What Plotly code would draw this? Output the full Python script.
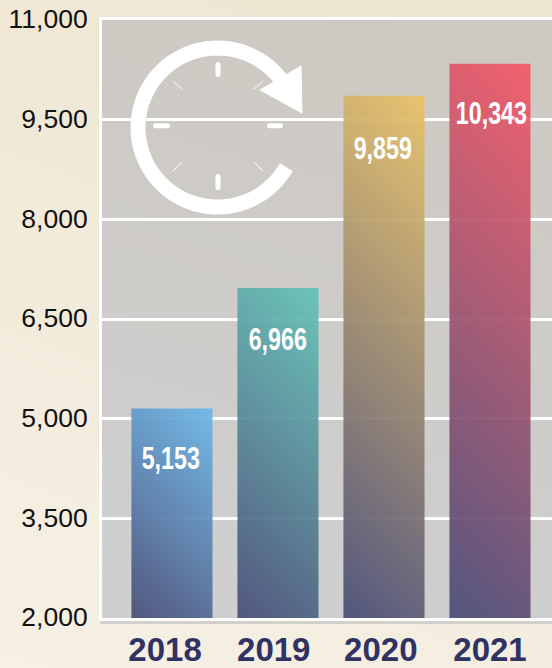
import math
import plotly.graph_objects as go

years = ["2018", "2019", "2020", "2021"]
values = [5153, 6966, 9859, 10343]
value_labels = ["5,153", "6,966", "9,859", "10,343"]
year_tick_positions = [-0.065, 0.96, 1.97, 3.0]
y_ticks = [2000, 3500, 5000, 6500, 8000, 9500, 11000]
y_tick_labels = ["2,000", "3,500", "5,000", "6,500", "8,000", "9,500", "11,000"]
top_colors = ["#6db9ea", "#64c4b8", "#eac368", "#f55a68"]
bottom_color = "#4a4e78"
label_dx = [-1, 0, -1, 2]
label_dy = [-50, -51, -53, -50]

W, H = 552, 668
L, T, B = 102, 20, 50
PW, PH = W - L, H - T - B


def px(x):
    return (x - L) / PW


def py(y):
    return (H - B - y) / PH


def pth(points, close=False):
    s = "M " + " L ".join(f"{px(x):.5f} {py(y):.5f}" for x, y in points)
    return s + (" Z" if close else "")


def line(x0, y0, x1, y1, w):
    return dict(type="line", xref="paper", yref="paper", x0=px(x0), y0=py(y0), x1=px(x1), y1=py(y1),
                line=dict(color="white", width=w), layer="above")


cx, cy, r = 217.5, 127.5, 79.5
arc = []
for d in range(30, 327, 4):  # decorative clock ring, screen angle
    a = math.radians(d)
    arc.append((cx + r * math.cos(a), cy + r * math.sin(a)))

shapes = [
    dict(type="rect", xref="paper", yref="paper", x0=px(100), x1=1, y0=py(624), y1=py(619),
         fillcolor="#d2d0cb", line_width=0, layer="below"),
    dict(type="path", xref="paper", yref="paper", path=pth(arc), line=dict(color="white", width=15),
         fillcolor="rgba(0,0,0,0)", layer="above"),
    dict(type="path", xref="paper", yref="paper", path=pth([(301, 66), (302, 113), (260, 90)], True),
         fillcolor="white", line=dict(color="white", width=1), layer="above"),
    line(218, 64.5, 218, 74.5, 5), line(218, 176.5, 218, 187.5, 5),
    line(155.5, 125.7, 167.5, 125.7, 5), line(269.5, 125.7, 280.5, 125.7, 5),
    line(173, 81, 182, 89, 1), line(263, 81, 254, 89, 1),
    line(182, 162, 173, 171, 1), line(254, 162, 263, 171, 1),
]

annotations = [
    dict(x=i, y=v, xref="x", yref="y", text=lab, showarrow=False, yshift=dy, xshift=dx, yanchor="middle",
         font=dict(family="Liberation Sans", size=31, color="white", weight="bold"))
    for i, (v, lab, dx, dy) in enumerate(zip(values, value_labels, label_dx, label_dy))
]

fig = go.Figure(go.Bar(x=years, y=values, width=0.765, marker=dict(color=top_colors, line_width=0), opacity=0.93,
                       hoverinfo="skip"))
fig.update_layout(
    width=W, height=H, autosize=False, margin=dict(l=L, r=0, t=T, b=B, pad=0, autoexpand=False),
    showlegend=False, paper_bgcolor="#f3ecdd", plot_bgcolor="#cdcbc6",
    shapes=shapes, annotations=annotations,
    xaxis=dict(type="category", range=[-0.66, 3.585], automargin=False,
               tickmode="array", tickvals=year_tick_positions, ticktext=years,
               tickfont=dict(family="Liberation Sans", size=33, color="#2f3263", weight="bold"),
               showgrid=False, zeroline=False, showline=True, linecolor="white", linewidth=3, mirror=True,
               ticks="outside", ticklen=0, tickcolor="rgba(0,0,0,0)"),
    yaxis=dict(range=[2000, 11000], tickvals=y_ticks, ticktext=y_tick_labels, automargin=False,
               tickfont=dict(family="Liberation Sans", size=26.5, color="#111111"),
               showgrid=True, gridcolor="white", gridwidth=3, zeroline=False,
               showline=True, linecolor="white", linewidth=3,
               ticks="outside", ticklen=6, tickcolor="rgba(0,0,0,0)"),
)

post = """
document.documentElement.style.margin='0';document.body.style.margin='0';document.body.style.overflow='hidden';
var gd=document.querySelector('.plotly-graph-div');
var svg=gd.querySelector('.main-svg');
var NS='http://www.w3.org/2000/svg';
var defs=document.createElementNS(NS,'defs');svg.insertBefore(defs,svg.firstChild);
function grad(id,x1,y1,x2,y2,stops,user){var g=document.createElementNS(NS,'linearGradient');g.id=id;
 if(user)g.setAttribute('gradientUnits','userSpaceOnUse');
 g.setAttribute('x1',x1);g.setAttribute('y1',y1);g.setAttribute('x2',x2);g.setAttribute('y2',y2);
 stops.forEach(function(s){var o=document.createElementNS(NS,'stop');o.setAttribute('offset',s[0]);o.setAttribute('stop-color',s[1]);g.appendChild(o);});
 defs.appendChild(g);}
var tops=%s;
var plotH=gd._fullLayout._size.h;
gd.querySelectorAll('.bars .point path').forEach(function(p,i){var b=p.getBBox();var bot=Math.min(b.y+b.height,plotH);var h=bot-b.y;var s=(b.width+h)/2;
 var xr=b.x+b.width;grad('barg'+i,xr,b.y,xr-s,b.y+s,[[0,tops[i]],[1,'%s']],true);p.style.fill='url(#barg'+i+')';});
grad('plotg',0.6,0,0.4,1,[[0,'#cdc9c2'],[1,'#cfcfd0']]);
gd.querySelectorAll('.main-svg').forEach(function(s,i){if(i==0)s.style.background='linear-gradient(200deg,#eee5d0,#f6f0e5)';});
var pb=svg.querySelector('.bglayer .bg');if(pb)pb.style.fill='url(#plotg)';
gd.querySelectorAll('.annotation-text').forEach(function(t){var n=t.getComputedTextLength();t.setAttribute('textLength',n*0.75);t.setAttribute('lengthAdjust','spacingAndGlyphs');});
gd.querySelectorAll('.ytick text').forEach(function(t){t.setAttribute('y',parseFloat(t.getAttribute('y'))-1);});
gd.querySelectorAll('.shapelayer path').forEach(function(p){if(parseFloat(p.style.strokeWidth)==5)p.style.strokeLinecap='round';});
""" % (top_colors, bottom_color)

fig.write_html("out.html", post_script=post, config={"displayModeBar": False})
